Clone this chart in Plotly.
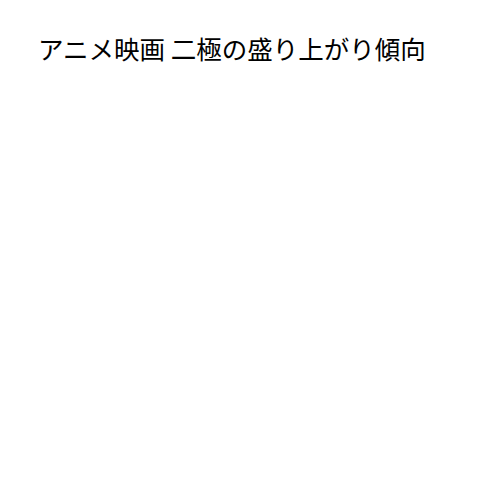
import plotly.graph_objects as go

title_text = 'アニメ映画 二極の盛り上がり傾向'

fig = go.Figure()

fig.update_layout(
    width=500, height=500,
    title=dict(text=title_text, x=0.06, xanchor='left', y=0.915, yanchor='middle',
               yref='container', font=dict(family='Noto Sans CJK JP', size=25.5, color='#000000')),
    paper_bgcolor='white', plot_bgcolor='white',
    xaxis=dict(visible=False), yaxis=dict(visible=False),
    showlegend=False,
)

fig.write_html("out.html")
